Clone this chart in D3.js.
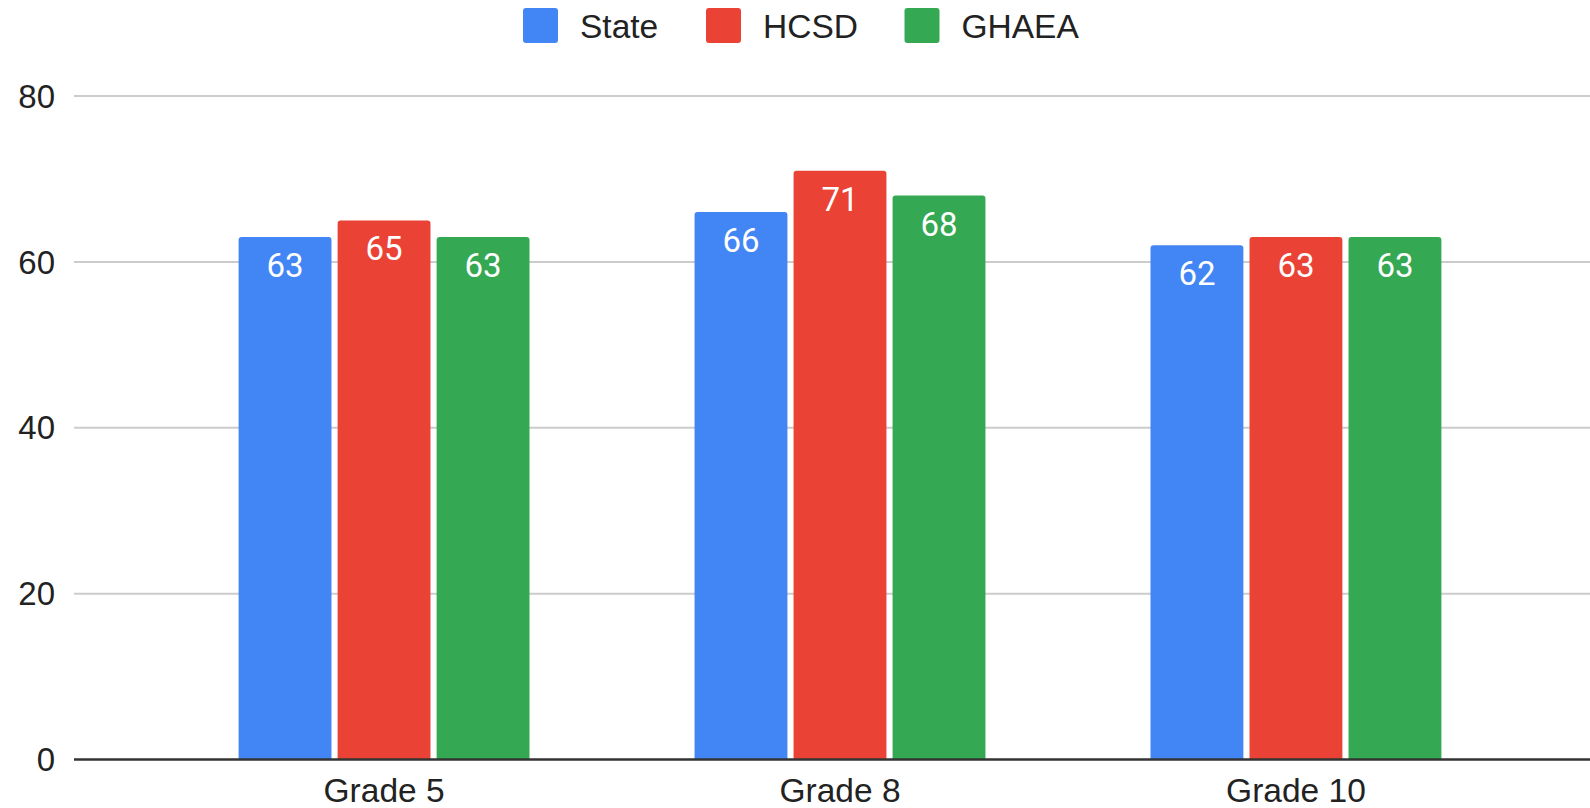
<!DOCTYPE html>
<html><head><meta charset="utf-8">
<script src="https://cdn.jsdelivr.net/npm/d3@7"></script>
<style>body{margin:0;background:#fff}svg{display:block}</style>
</head><body>
<svg id="c" width="1590" height="808"></svg>
<script>
const categories = ["Grade 5", "Grade 8", "Grade 10"];
const seriesNames = ["State", "HCSD", "GHAEA"];
const stateValues = [63, 66, 62];
const hcsdValues = [65, 71, 63];
const ghaeaValues = [63, 68, 63];
const yTicks = [0, 20, 40, 60, 80];
const colors = ["#4285F4", "#EA4335", "#34A853"];

const seriesValues = [stateValues, hcsdValues, ghaeaValues];
const W = 1590, H = 808;
const m = {left: 74, right: -16, top: 96, bottom: 48.5};
const svg = d3.select("#c");
const axisFont = "Arial, 'Liberation Sans', sans-serif";

const y = d3.scaleLinear().domain([0, 80]).range([H - m.bottom, m.top]);
const x0 = d3.scaleBand().domain(categories).range([m.left, W - m.right]).paddingInner(0.362).paddingOuter(0.361);
const x1 = d3.scaleBand().domain(seriesNames).range([0, x0.bandwidth()]).paddingInner(0.062);

// y axis labels + gridlines
const yAxis = d3.axisLeft(y).tickValues(yTicks).tickSize(0).tickPadding(19);
const gy = svg.append("g").attr("transform", `translate(${m.left},0)`).call(yAxis);
gy.select(".domain").remove();
gy.selectAll("text").attr("font-family", axisFont).attr("font-size", 33).attr("fill", "#222").attr("dy", "0.34em");
svg.append("g").selectAll("line").data(yTicks.filter(d => d > 0)).join("line")
  .attr("x1", m.left).attr("x2", W).attr("y1", d => y(d)).attr("y2", d => y(d))
  .attr("stroke", "#cccccc").attr("stroke-width", 2);

// bars
const r = 3;
function barPath(x, yt, w, yb) {
  return `M${x},${yb}V${yt + r}Q${x},${yt} ${x + r},${yt}H${x + w - r}Q${x + w},${yt} ${x + w},${yt + r}V${yb}Z`;
}
const groups = svg.append("g").selectAll("g").data(categories).join("g")
  .attr("transform", d => `translate(${x0(d)},0)`);
groups.each(function(cat, ci) {
  const g = d3.select(this);
  seriesNames.forEach((s, si) => {
    const v = seriesValues[si][ci];
    g.append("path").attr("d", barPath(x1(s), y(v), x1.bandwidth(), y(0))).attr("fill", colors[si]);
    g.append("text").attr("x", x1(s) + x1.bandwidth() / 2).attr("y", y(v) + 40)
      .attr("text-anchor", "middle").attr("fill", "#fff")
      .attr("font-family", "Roboto, sans-serif").attr("font-size", 33)
      .text(v);
  });
});

// x axis
const xAxis = d3.axisBottom(x0).tickSize(0).tickPadding(19);
const gx = svg.append("g").attr("transform", `translate(0,${y(0)})`).call(xAxis);
gx.select(".domain").remove();
gx.selectAll("text").attr("font-family", axisFont).attr("font-size", 33.5).attr("fill", "#222").attr("dy", "0.71em");
svg.append("line").attr("x1", m.left).attr("x2", W).attr("y1", y(0)).attr("y2", y(0))
  .attr("stroke", "#333").attr("stroke-width", 2.5);

// legend
const legendX = [523, 706, 904.5];
const lg = svg.append("g").selectAll("g").data(seriesNames).join("g")
  .attr("transform", (d, i) => `translate(${legendX[i]},8)`);
lg.append("rect").attr("width", 35).attr("height", 35).attr("rx", 3).attr("fill", (d, i) => colors[i]);
lg.append("text").attr("x", 57).attr("y", 17.5).attr("dy", "0.36em")
  .attr("font-family", axisFont).attr("font-size", 33.5).attr("fill", "#222")
  .text(d => d);
</script>
</body></html>
